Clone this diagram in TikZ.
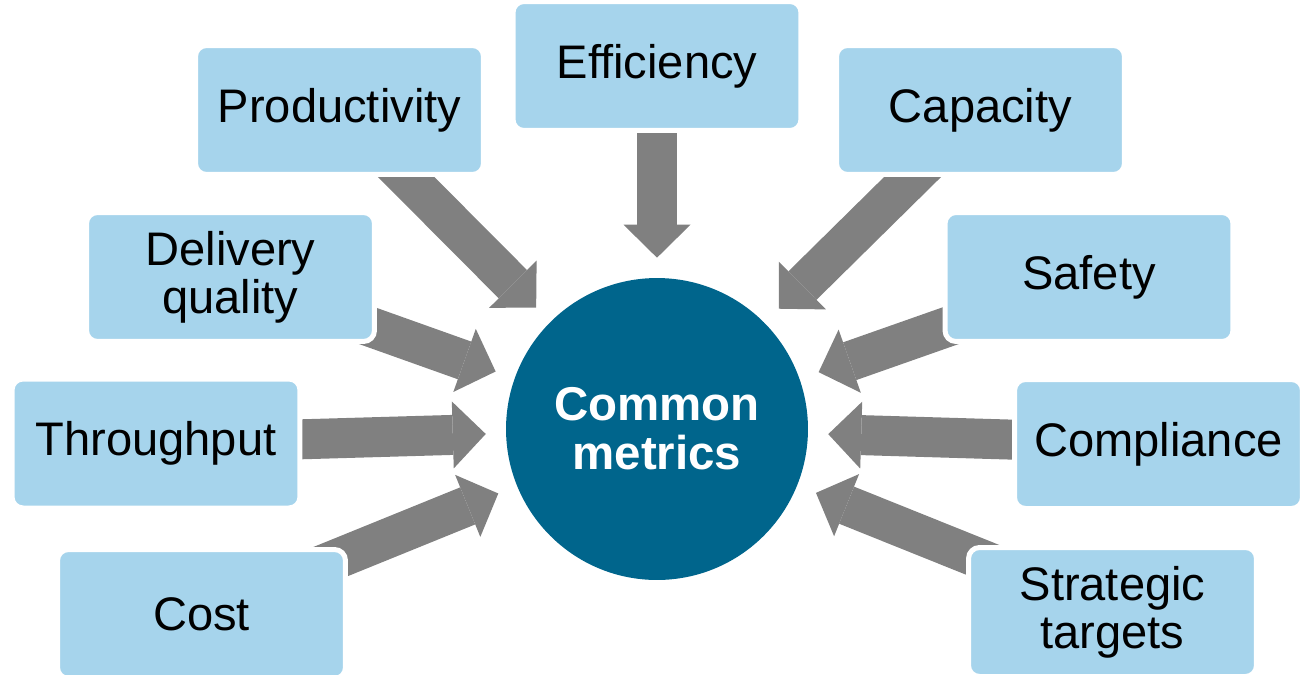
\documentclass[tikz,border=0pt]{standalone}
\usepackage{fontspec}
\setmainfont{Liberation Sans}
\usetikzlibrary{arrows.meta,backgrounds}

\definecolor{boxblue}{RGB}{166,212,236}
\definecolor{hubblue}{RGB}{0,101,140}
\definecolor{arrowgray}{RGB}{128,128,128}

\tikzset{
  metric/.style={rectangle, rounded corners=0.22cm, fill=boxblue, draw=white,
    line width=0.1cm, minimum width=5.76cm, minimum height=2.58cm, inner sep=0pt,
    align=center, font=\fontsize{26.8}{27.5}\selectfont},
  hub/.style={circle, fill=hubblue, minimum size=6.04cm, inner sep=0pt,
    align=center, text=white, font=\fontsize{27}{28}\selectfont\bfseries},
  feed/.style={arrowgray, line width=0.8cm,
    -{Triangle[length=0.66cm, width=1.34cm, line width=0pt]}, shorten >=0.4cm}
}

\begin{document}
\begin{tikzpicture}[x=0.02cm, y=-0.02cm]
\useasboundingbox (0,0) rectangle (1301,674);
\node[hub] (hub) at (657,429) {Common\\metrics};
% boxes round the hub
\node[metric] (eff) at (657,66) {Efficiency};
\node[metric] (prod) at (339.5,110) {Productivity};
\node[metric] (cap) at (980.5,110) {Capacity};
\node[metric] (del) at (230.5,277) {Delivery\\quality};
\node[metric] (saf) at (1089,277) {Safety};
\node[metric] (thr) at (156,443.5) {Throughput};
\node[metric] (comp) at (1158.5,444) {Compliance};
\node[metric] (cost) at (201.5,614) {Cost};
\node[metric] (strat) at (1112.5,612) {Strategic\\targets};
% arrows into the hub
\begin{scope}[on background layer]
\foreach \src in {eff,prod,cap,del,saf,thr,comp,cost,strat}
  \draw[feed] (\src.center) -- (hub);
\end{scope}
\end{tikzpicture}
\end{document}
